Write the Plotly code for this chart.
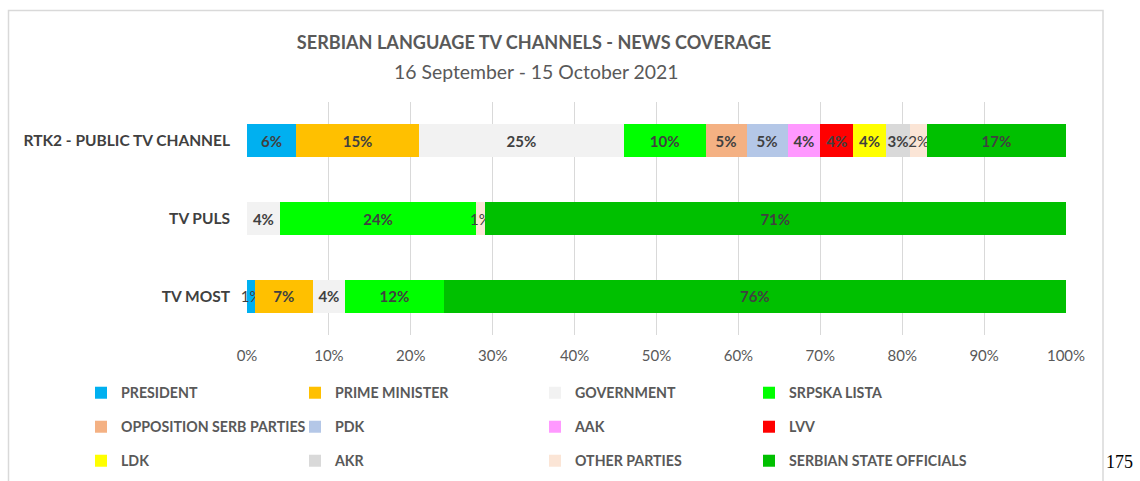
import plotly.graph_objects as go

channels = ["RTK2 - PUBLIC TV CHANNEL", "TV PULS", "TV MOST"]
series_names = ["PRESIDENT", "PRIME MINISTER", "GOVERNMENT", "SRPSKA LISTA",
                "OPPOSITION SERB PARTIES", "PDK", "AAK", "LVV",
                "LDK", "AKR", "OTHER PARTIES", "SERBIAN STATE OFFICIALS"]
president = [6, 0, 1]
prime_minister = [15, 0, 7]
government = [25, 4, 4]
srpska_lista = [10, 24, 12]
opposition_serb = [5, 0, 0]
pdk = [5, 0, 0]
aak = [4, 0, 0]
lvv = [4, 0, 0]
ldk = [4, 0, 0]
akr = [3, 0, 0]
other_parties = [2, 1, 0]
serbian_state = [17, 71, 76]
colors = ["#00B0F0", "#FFC000", "#F2F2F2", "#00FF00",
          "#F4B183", "#B4C7E7", "#FF99FF", "#FF0000",
          "#FFFF00", "#D9D9D9", "#FBE5D6", "#00C000"]
tick_vals = [0, 10, 20, 30, 40, 50, 60, 70, 80, 90, 100]
tick_text = ["0%", "10%", "20%", "30%", "40%", "50%", "60%", "70%", "80%", "90%", "100%"]

series_values = [president, prime_minister, government, srpska_lista,
                 opposition_serb, pdk, aak, lvv, ldk, akr, other_parties, serbian_state]

FONT = "Lato"
W, H = 1140, 481
L, R, T, B = 247, 74, 102, 146
pw, ph = W - L - R, H - T - B

def px_x(x):
    return (x - L) / pw

def px_y(y):
    return (H - B - y) / ph

legend_cols = [121, 335, 575, 789]
legend_rows = [393, 427, 461]

fig = go.Figure()
legend_layout = {}
for i, (name, vals, col) in enumerate(zip(series_names, series_values, colors)):
    texts = []
    for v in vals:
        if not v:
            texts.append("")
        elif v >= 3:
            texts.append(f"<b>{v}%</b>")
        else:
            texts.append(f"{v}%")
    lid = "legend" if i == 0 else f"legend{i + 1}"
    fig.add_trace(go.Bar(
        y=channels, x=[v if v else None for v in vals], name=name, orientation="h",
        marker=dict(color=col, line=dict(width=0)),
        text=texts, textposition="inside", insidetextanchor="middle",
        constraintext="none", textangle=0, cliponaxis=False,
        textfont=dict(family=FONT, size=15, color="#404040"),
        legend=lid, hoverinfo="x+name",
    ))
    cx = legend_cols[i % 4]
    cy = legend_rows[i // 4]
    legend_layout[lid] = dict(
        orientation="v", bgcolor="rgba(0,0,0,0)", borderwidth=0,
        font=dict(family=FONT, size=14.2, color="#595959", weight="bold"),
        yanchor="top", xanchor="left", xref="paper", yref="container",
        itemclick=False, itemdoubleclick=False,
        x=px_x(cx - 40), y=1 - (cy - 16) / H,
    )

fig.update_layout(
    width=W, height=H,
    margin=dict(l=L, r=R, t=T, b=B, pad=0),
    paper_bgcolor="white", plot_bgcolor="white",
    barmode="stack", bargap=0.575,
    uniformtext=dict(minsize=15, mode="show"),
    font=dict(family=FONT, color="#595959"),
    title=dict(text="<b>SERBIAN LANGUAGE TV CHANNELS - NEWS COVERAGE</b>",
               x=534 / W, xref="container", xanchor="center",
               y=1 - 43 / H, yref="container", yanchor="middle",
               font=dict(family=FONT, size=18.1, color="#595959")),
    xaxis=dict(range=[0, 100], tickvals=tick_vals, ticktext=tick_text,
               showgrid=True, gridcolor="#D9D9D9", gridwidth=1, zeroline=False,
               showline=False, ticks="", ticklabelstandoff=10,
               tickfont=dict(family=FONT, size=15, color="#595959"), fixedrange=True),
    yaxis=dict(autorange="reversed", showgrid=False, zeroline=False, showline=False,
               ticks="", ticklabelstandoff=16,
               tickfont=dict(family=FONT, size=15.5, color="#404040", weight="bold"),
               fixedrange=True),
    showlegend=True,
    **legend_layout,
)

fig.add_annotation(text="16 September - 15 October 2021", xref="paper", yref="paper",
                   x=px_x(536), y=px_y(71), xanchor="center", yanchor="middle",
                   showarrow=False, font=dict(family=FONT, size=19.4, color="#595959"))
fig.add_annotation(text="175", xref="paper", yref="paper",
                   x=px_x(1104), y=px_y(462), xanchor="left", yanchor="middle",
                   showarrow=False, font=dict(family="Liberation Serif", size=18, color="#000000"))
fig.add_shape(type="rect", xref="paper", yref="paper",
              x0=px_x(8.5), x1=px_x(1103), y0=px_y(520), y1=px_y(10.5),
              line=dict(color="#D9D9D9", width=1.5), fillcolor="rgba(0,0,0,0)", layer="below")

fig.write_html("out.html", config={"displayModeBar": False},
               post_script="document.body.style.margin='0';document.body.style.padding='0';")
